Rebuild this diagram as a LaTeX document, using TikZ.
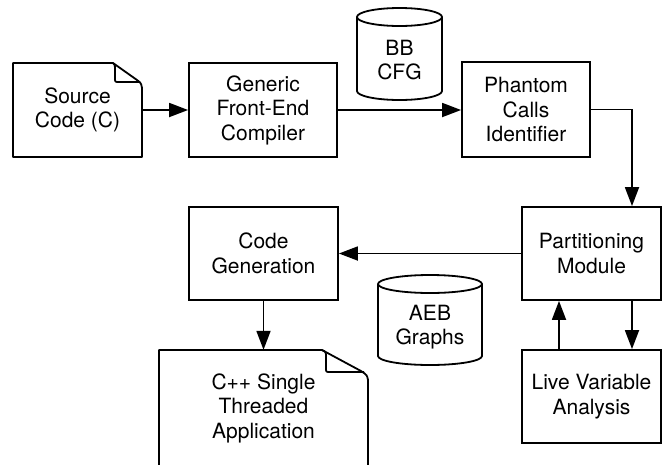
\documentclass[tikz,border=0pt]{standalone}
\usepackage{fontspec}
\setmainfont{TeX Gyre Heros}
\usetikzlibrary{arrows.meta,calc}
\begin{document}
\begin{tikzpicture}[x=1pt,y=1pt,
  txt/.style={align=center, inner sep=0pt, font=\fontsize{21}{24.5}\selectfont},
  box/.style={txt, draw, line width=1.8pt},
  arr/.style={line width=1.8pt, -{Triangle[length=19pt,width=14pt]}},
  ln/.style={line width=1.8pt, line join=round}]
\useasboundingbox (0,0) rectangle (662,-464);
\clip (0,0) rectangle (662,-464);

% rectangular process boxes
\node[box, minimum width=148pt, minimum height=94pt] (gen) at (263,-110) {Generic\\Front-End\\Compiler};
\node[box, minimum width=128pt, minimum height=95pt] (ph) at (526,-109.5) {Phantom\\Calls\\Identifier};
\node[box, minimum width=139pt, minimum height=93pt] (part) at (591.5,-253.5) {Partitioning\\Module};
\node[box, minimum width=149pt, minimum height=93pt] (code) at (263.5,-253.5) {Code\\Generation};
\node[box, minimum width=139pt, minimum height=93pt] (live) at (591.5,-396.5) {Live Variable\\Analysis};

% document shapes
\node[txt, minimum width=129pt, minimum height=94pt] (src) at (77.5,-110) {Source\\Code (C)};
\draw[ln] (113,-63) -- (13,-63) -- (13,-157) -- (142,-157) -- (142,-88)
  .. controls (141,-83) .. (137,-80) -- cycle;
\draw[ln] (113,-63) .. controls (115,-65) .. (115,-68) -- (115,-78)
  .. controls (115,-82) .. (119,-82) -- (140,-82);

\node[txt, minimum width=209pt, minimum height=116pt] (cpp) at (263.5,-408) {C++ Single\\Threaded\\Application};
\draw[ln] (322,-350) -- (159,-350) -- (159,-470) -- (368,-470) -- (368,-380)
  .. controls (367,-375) .. (361,-371) -- cycle;
\draw[ln] (322,-350) .. controls (326,-352) .. (326,-357) -- (326,-368)
  .. controls (326,-372) .. (330,-372) -- (364,-372);

% data stores (cylinders)
\draw[ln] (357,-17) -- (357,-91) arc (180:360:42.5 and 9) -- (442,-17);
\draw[ln] (399.5,-17) ellipse (42.5 and 9);
\node[txt] (bb) at (399.5,-60) {BB\\CFG};

\draw[ln] (378,-284) -- (378,-356) arc (180:360:52 and 9) -- (482,-284);
\draw[ln] (430,-284) ellipse (52 and 9);
\node[txt] (aeb) at (430,-327) {AEB\\Graphs};

% connectors
\coordinate (kr) at (632,0);
\coordinate (kl) at (559,0);
\draw[arr] (src.east) -- (gen.west);
\draw[arr] (gen.east) -- (ph.west |- gen.east);
\draw[arr] (ph.east) -| (kr |- part.north);
\draw[arr] (part.west) -- (code.east);
\draw[arr] (code.south) -- (cpp.north);
\draw[arr] (kr |- part.south) -- (kr |- live.north);
\draw[arr] (kl |- live.north) -- (kl |- part.south);
\end{tikzpicture}
\end{document}
